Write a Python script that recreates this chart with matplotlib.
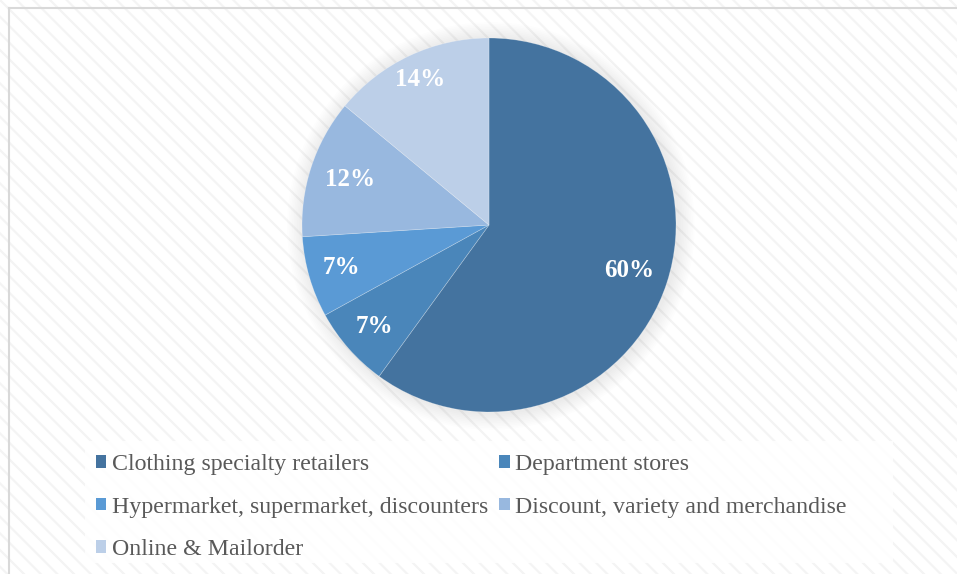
import matplotlib.pyplot as plt
from matplotlib.patches import Rectangle, Circle, Patch
from matplotlib.lines import Line2D
import numpy as np

# Market share by retail channel
categories = ["Clothing specialty retailers", "Department stores",
              "Hypermarket, supermarket, discounters",
              "Discount, variety and merchandise", "Online & Mailorder"]
shares = [60, 7, 7, 12, 14]
colors = ["#44739f", "#4a86ba", "#5a9ad5", "#98b8df", "#bccfe8"]
label_dist = [0.79, 0.82, 0.82, 0.78, 0.86]

W, H = 957, 574
fig = plt.figure(figsize=(W / 100, H / 100), dpi=100)
plt.rcParams['font.family'] = ['Liberation Serif', 'DejaVu Serif']
plt.rcParams['hatch.linewidth'] = 1.6

# striped background + frame
bg = Rectangle((0, 0), 1, 1, transform=fig.transFigure, facecolor="white",
               edgecolor="#f4f4f4", hatch="\\\\", linewidth=0, zorder=-10)
fig.patches.append(bg)
fig.add_artist(Line2D([9 / W, 1], [1 - 8 / H, 1 - 8 / H], transform=fig.transFigure,
                      color="#d9d9d9", lw=1.5))
fig.add_artist(Line2D([9 / W, 9 / W], [0, 1 - 8 / H], transform=fig.transFigure,
                      color="#d9d9d9", lw=1.5))

# legend box
fig.patches.append(Rectangle((85 / W, 1 - 563 / H), 808 / W, 122 / H,
                             transform=fig.transFigure, facecolor="white",
                             edgecolor="none", alpha=0.85, zorder=-5))

# pie axes: center (489, 225) px, radius 187 px
cx, cy, r = 489, 225, 187
ax = fig.add_axes([(cx - r) / W, 1 - (cy + r) / H, 2 * r / W, 2 * r / H])

# soft shadow around the pie
for i in range(10):
    ax.add_patch(Circle((0.01, -0.005), 1 + 0.009 * (i + 1), facecolor="black",
                        alpha=0.008, edgecolor="none", clip_on=False, zorder=0))

wedges, texts, autotexts = ax.pie(shares, colors=colors, startangle=90, counterclock=False,
                                  autopct="%d%%", pctdistance=0.8,
                                  wedgeprops=dict(linewidth=0.5, edgecolor=(1, 1, 1, 0.3)),
                                  textprops=dict(color="white", fontsize=18, fontweight="bold"))
for w, t, d in zip(wedges, autotexts, label_dist):
    mid = np.deg2rad((w.theta1 + w.theta2) / 2)
    t.set_position((d * np.cos(mid), d * np.sin(mid)))
    t.set_zorder(5)
ax.set_xlim(-1, 1)
ax.set_ylim(-1, 1)
ax.set_aspect("equal")
ax.axis("off")

# legend, filled row by row
order = [0, 2, 4, 1, 3]
handles = [Patch(facecolor=colors[i], edgecolor="none") for i in order]
labels = [categories[i] for i in order]
leg = fig.legend(handles, labels, ncol=2, loc="upper left",
                 bbox_to_anchor=(96 / W, 1 - 454 / H),
                 frameon=False, fontsize=17.2, labelcolor="#595959",
                 handlelength=0.43, handleheight=0.43, handletextpad=0.25,
                 columnspacing=0.45, labelspacing=0.9, borderpad=0, borderaxespad=0)

fig.savefig("out.png", dpi=100)
